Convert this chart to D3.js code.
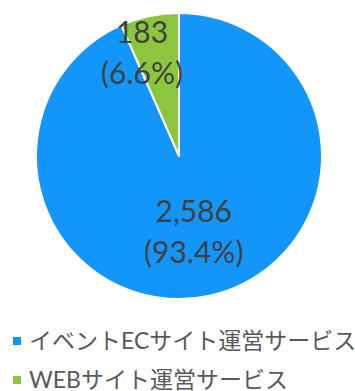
<!DOCTYPE html>
<html><head><meta charset="utf-8">
<script src="https://cdn.jsdelivr.net/npm/d3@7"></script>
<style>
html,body{margin:0;padding:0;background:#fff;}
svg{display:block;}
</style></head>
<body>
<svg id="chart" width="355" height="391"></svg>
<script>
const categories = ["イベントECサイト運営サービス", "WEBサイト運営サービス"];
const values = [2586, 183];
const colors = ["#1296F9", "#8CC63F"];

const svg = d3.select("#chart");
const W = 355, H = 391;
const cx = 179, cy = 156, R = 143;
const total = d3.sum(values);
const data = categories.map((c, i) => ({cat: c, value: values[i], color: colors[i]}));

const pie = d3.pie().value(d => d.value).sort(null).startAngle(0).endAngle(2 * Math.PI);
const arcs = pie(data);
const arc = d3.arc().innerRadius(0).outerRadius(R);

const g = svg.append("g").attr("transform", `translate(${cx},${cy})`);
g.selectAll("path").data(arcs).enter().append("path")
  .attr("d", arc).attr("fill", d => d.data.color)
  .attr("stroke", "#fff").attr("stroke-width", 2).attr("stroke-linejoin", "round");

const labelR = [0.5, 0.78];
const labelDx = [0, -14];
const fmt = d3.format(",");
const pct = d3.format(".1%");
arcs.forEach((a, i) => {
  const la = d3.arc().innerRadius(R * labelR[i]).outerRadius(R * labelR[i]);
  const [x, y] = la.centroid(a);
  const t = g.append("text")
    .attr("x", x + labelDx[i]).attr("y", y)
    .attr("text-anchor", "middle")
    .attr("font-family", "Lato, 'Noto Sans CJK JP', sans-serif")
    .attr("font-size", 30).attr("fill", "#404040");
  t.append("tspan").attr("x", x + labelDx[i]).attr("dy", "-0.12em").text(fmt(a.data.value));
  t.append("tspan").attr("x", x + labelDx[i]).attr("dy", 41).text("(" + pct(a.data.value / total) + ")");
});

const legend = svg.append("g").attr("transform", "translate(13,0)");
data.forEach((d, i) => {
  const y = 341 + i * 39;
  legend.append("rect").attr("x", 0).attr("y", y - 4).attr("width", 8).attr("height", 8).attr("fill", d.color);
  legend.append("text").attr("x", 16).attr("y", y).attr("dy", "0.36em")
    .attr("font-family", "Lato, 'Noto Sans CJK JP', sans-serif")
    .attr("font-size", 23).attr("fill", "#595959").text(d.cat);
});
</script>
</body></html>
